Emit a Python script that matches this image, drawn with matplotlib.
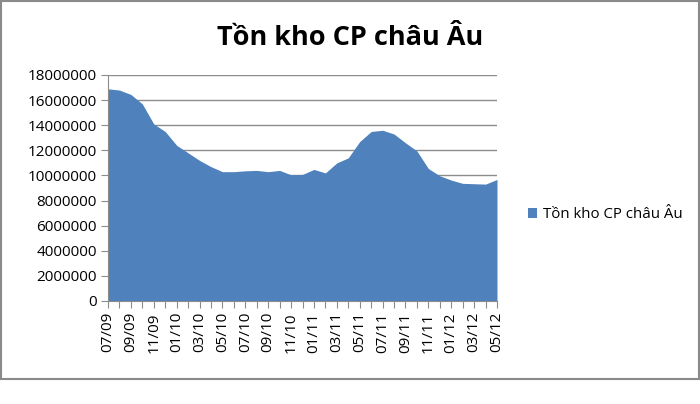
import matplotlib.pyplot as plt
from matplotlib.patches import Rectangle

plt.rcParams['font.family'] = ['Open Sans', 'DejaVu Sans']

months = ["07/09", "08/09", "09/09", "10/09", "11/09", "12/09",
          "01/10", "02/10", "03/10", "04/10", "05/10", "06/10",
          "07/10", "08/10", "09/10", "10/10", "11/10", "12/10",
          "01/11", "02/11", "03/11", "04/11", "05/11", "06/11",
          "07/11", "08/11", "09/11", "10/11", "11/11", "12/11",
          "01/12", "02/12", "03/12", "04/12", "05/12"]
stock = [16900000, 16800000, 16450000, 15700000, 14100000, 13500000,
         12400000, 11800000, 11200000, 10700000, 10300000, 10300000,
         10370000, 10400000, 10300000, 10400000, 10050000, 10080000,
         10480000, 10200000, 11000000, 11400000, 12700000, 13500000,
         13600000, 13300000, 12600000, 11950000, 10550000, 9970000,
         9630000, 9370000, 9340000, 9310000, 9680000]
series_name = "Tồn kho CP châu Âu"
yticks = list(range(0, 18000001, 2000000))

fig = plt.figure(figsize=(7, 4.04), dpi=100)
ax = fig.add_axes([108 / 700, 103 / 404, 389 / 700, 226 / 404])

x = list(range(len(months)))
ax.fill_between(x, stock, 0, color="#4f81bd", linewidth=0, label=series_name, zorder=2)

ax.set_xlim(0, len(months) - 1)
ax.set_ylim(0, 18000000)
ax.set_yticks(yticks)
ax.set_yticklabels([str(v) for v in yticks], fontsize=11)
ax.set_xticks(x)
ax.set_xticklabels([m if i % 2 == 0 else "" for i, m in enumerate(months)],
                   rotation=90, fontsize=11)
ax.grid(axis="y", color="#8c8c8c", linewidth=1, zorder=1)
ax.set_axisbelow(True)
for s in ["top", "right"]:
    ax.spines[s].set_visible(False)
for s in ["left", "bottom"]:
    ax.spines[s].set_color("#8c8c8c")
    ax.spines[s].set_zorder(3)
ax.tick_params(axis="y", length=5, color="#8c8c8c", pad=3)
ax.tick_params(axis="x", length=5, color="#8c8c8c", pad=3)

fig.text(350 / 700, 1 - 38 / 404, series_name, ha="center", va="center",
         fontsize=19.5, fontweight="bold")

fig.legend(loc="center left", bbox_to_anchor=(522 / 700, 1 - 215 / 404),
           frameon=False, fontsize=10.8, handlelength=0.6, handleheight=0.6,
           handletextpad=0.4, borderaxespad=0)

fig.patches.append(Rectangle((1 / 700, 1 - 379 / 404), 698 / 700, 378 / 404,
                             transform=fig.transFigure, fill=False,
                             edgecolor="#8a8a8a", linewidth=1.5))

fig.savefig("out.png", dpi=100)
